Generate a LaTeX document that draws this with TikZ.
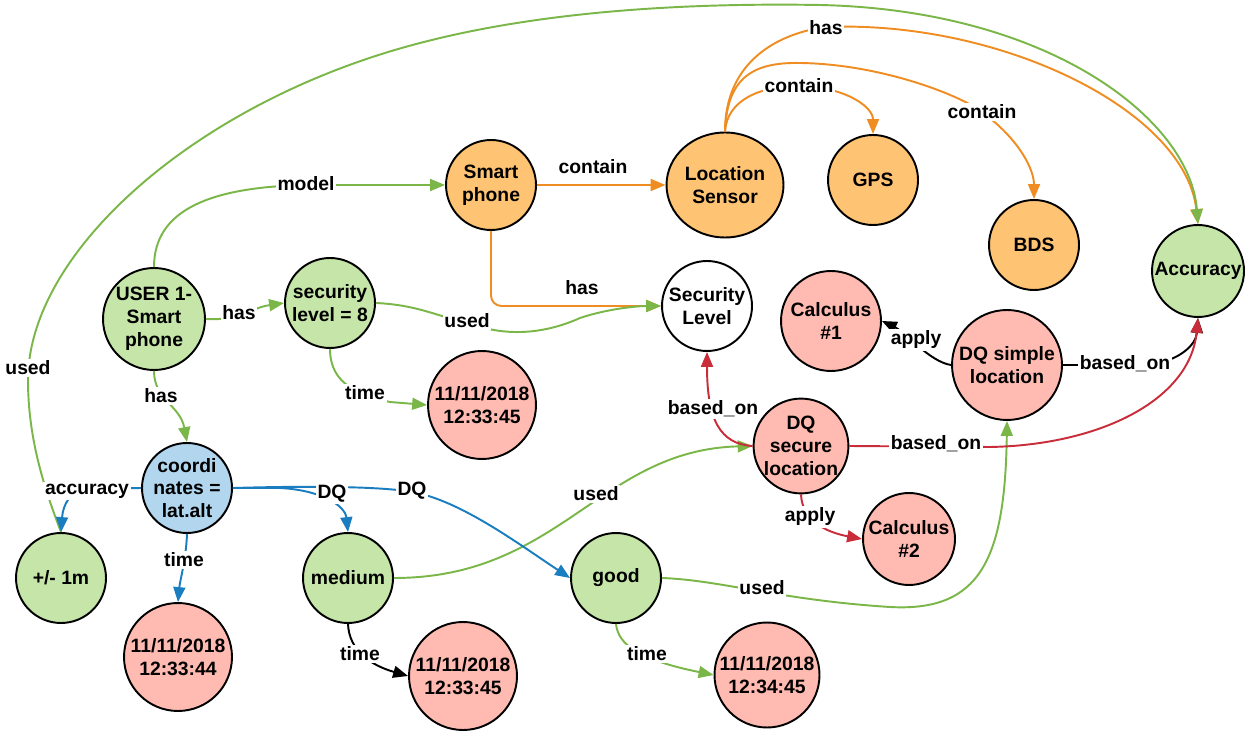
\documentclass[tikz,border=0pt]{standalone}
\usepackage{fontspec}
\setmainfont{Liberation Sans}
\usetikzlibrary{arrows.meta,shapes.geometric}

\definecolor{gfill}{HTML}{C5E6A8}
\definecolor{ofill}{HTML}{FFC374}
\definecolor{pfill}{HTML}{FFBBB1}
\definecolor{bfill}{HTML}{B1D6EE}
\definecolor{gline}{HTML}{7AB648}
\definecolor{oline}{HTML}{EF8D22}
\definecolor{bline}{HTML}{1A7DC0}
\definecolor{rline}{HTML}{C92D39}

\newcommand{\dfont}{\fontsize{11}{13}\selectfont\bfseries}

\tikzset{
  ent/.style={circle, draw=black, line width=1.1pt, inner sep=0pt, align=center, font=\dfont, minimum size=1.8cm},
  gnode/.style={ent, fill=gfill},
  onode/.style={ent, fill=ofill},
  pnode/.style={ent, fill=pfill},
  bnode/.style={ent, fill=bfill},
  wnode/.style={ent, fill=white},
  lab/.style={fill=white, inner sep=1pt, font=\dfont},
  conn/.style={line width=1.1pt, -{Triangle[length=8.5pt,width=6.8pt]}},
  gedge/.style={conn, color=gline},
  oedge/.style={conn, color=oline},
  bedge/.style={conn, color=bline},
  redge/.style={conn, color=rline},
  kedge/.style={conn, color=black},
}

\begin{document}
\begin{tikzpicture}[x=0.02cm, y=-0.02cm]
\useasboundingbox (0,0) rectangle (1246,732);

% entities
\node[gnode, minimum size=2.04cm] (user) at (154,319) {USER 1-\\Smart\\phone};
\node[gnode] (sec) at (330,303) {security\\level = 8};
\node[bnode] (coord) at (187,488) {coordi\\nates =\\lat.alt};
\node[gnode] (pm) at (61,578) {+/- 1m};
\node[pnode, minimum size=2.16cm] (t1) at (178,657) {11/11/2018\\12:33:44};
\node[gnode] (med) at (348,578) {medium};
\node[pnode, minimum size=2.16cm] (t3) at (463,676) {11/11/2018\\12:33:45};
\node[gnode] (good) at (616,578) {good};
\node[pnode, minimum size=2.1cm] (t4) at (767,675) {11/11/2018\\12:34:45};
\node[pnode, minimum size=2.16cm] (t2) at (482,405) {11/11/2018\\12:33:45};
\node[onode] (sp) at (491,185) {Smart\\phone};
\node[ellipse, draw=black, line width=1.1pt, inner sep=0pt, align=center, font=\dfont,
      fill=ofill, minimum width=2.34cm, minimum height=2.1cm] (ls) at (725,185) {Location\\Sensor};
\node[onode] (gps) at (873,180) {GPS};
\node[onode] (bds) at (1034,245) {BDS};
\node[gnode, minimum size=1.84cm] (acc) at (1198,271) {Accuracy};
\node[wnode] (slevel) at (707,306) {Security\\Level};
\node[pnode, minimum size=2cm] (calc1) at (831,321) {Calculus\\\#1};
\node[pnode, minimum size=2.2cm] (dqsimple) at (1007,365) {DQ simple\\location};
\node[pnode, minimum size=1.84cm] (dqsec) at (801,446) {DQ\\secure\\location};
\node[pnode, minimum size=1.84cm] (calc2) at (909,539) {Calculus\\\#2};

% orange relations
\draw[oedge] (sp.east) -- (ls.west);
\draw[oedge, rounded corners=6pt] (sp.south) |- (slevel.west);
\draw[oedge] (ls.north) .. controls (727,100) and (760,86) .. (799,86)
             .. controls (840,86) and (873,105) .. (gps.north);
\draw[oedge] (ls.north) .. controls (727,80) and (750,62) .. (800,63)
             .. controls (880,64) and (960,95) .. (982,112)
             .. controls (1020,140) and (1034,170) .. (bds.north);
\draw[oedge] (ls.north) .. controls (725,60) and (780,33) .. (826,27)
             .. controls (1000,20) and (1185,110) .. (acc.north);

% green relations
\draw[gedge] (pm.north) .. controls (45,490) and (28,440) .. (28,380)
             .. controls (28,250) and (200,100) .. (420,43)
             .. controls (550,9) and (700,3) .. (820,5)
             .. controls (1050,10) and (1190,120) .. (acc.north);
\draw[gedge] (user.north) .. controls (154,210) and (210,187) .. (306,185) -- (sp.west);
\draw[gedge] (user.east) .. controls (240,321) and (250,308) .. (sec.west);
\draw[gedge] (user.south) .. controls (154,400) and (180,405) .. (coord.north);
\draw[gedge] (sec.east) .. controls (420,305) and (440,318) .. (467,322)
             .. controls (500,336) and (540,336) .. (580,318)
             .. controls (610,308) and (640,306) .. (slevel.west);
\draw[gedge] (sec.south) .. controls (330,385) and (360,395) .. (390,402) -- (t2.west);
\draw[gedge] (med.east) .. controls (560,578) and (600,450) .. (dqsec.west);
\draw[gedge] (good.south) .. controls (618,645) and (640,660) .. (t4.west);
\draw[gedge] (good.east) .. controls (720,580) and (780,600) .. (890,607)
             .. controls (980,612) and (1005,560) .. (dqsimple.south);

% blue relations
\draw[bedge] (coord.west) -- (90,489) .. controls (70,489) and (63,505) .. (pm.north);
\draw[bedge] (coord.south) .. controls (186,560) and (180,580) .. (t1.north);
\draw[bedge] (coord.east) -- (280,488) .. controls (320,490) and (345,505) .. (med.north);
\draw[bedge] (coord.east) .. controls (300,486) and (380,486) .. (412,492)
             .. controls (460,500) and (520,545) .. (good.west);

% black relations
\draw[kedge] (med.south) .. controls (349,650) and (370,665) .. (t3.west);
\draw[kedge] (dqsimple.west) .. controls (930,362) and (905,332) .. (calc1.east);
\draw[kedge] (dqsimple.east) -- (1150,365) .. controls (1180,360) and (1196,345) .. (acc.south);

% red relations
\draw[redge] (dqsec.west) .. controls (720,444) and (707,420) .. (slevel.south);
\draw[redge] (dqsec.east) -- (990,447) .. controls (1100,445) and (1190,400) .. (acc.south);
\draw[redge] (dqsec.south) .. controls (802,520) and (825,532) .. (calc2.west);

% relation labels
\node[lab] (l1) at (306,184) {model};
\node[lab] (l2) at (239,313) {has};
\node[lab] (l3) at (161,396) {has};
\node[lab] (l4) at (467,321) {used};
\node[lab] (l5) at (365,393) {time};
\node[lab] (l6) at (593,167) {contain};
\node[lab] (l7) at (582,288) {has};
\node[lab] (l8) at (799,86) {contain};
\node[lab] (l9) at (982,112) {contain};
\node[lab] (l10) at (826,28) {has};
\node[lab] (l11) at (28,368) {used};
\node[lab] (l12) at (87,491) {accuracy};
\node[lab] (l13) at (184,560) {time};
\node[lab] (l14) at (332,494) {DQ};
\node[lab] (l15) at (412,491) {DQ};
\node[lab] (l16) at (596,494) {used};
\node[lab] (l17) at (360,654) {time};
\node[lab] (l18) at (647,654) {time};
\node[lab] (l19) at (762,588) {used};
\node[lab] (l20) at (713,409) {based\_on};
\node[lab] (l21) at (936,444) {based\_on};
\node[lab] (l22) at (810,517) {apply};
\node[lab] (l23) at (916,340) {apply};
\node[lab] (l24) at (1125,364) {based\_on};
\end{tikzpicture}
\end{document}
